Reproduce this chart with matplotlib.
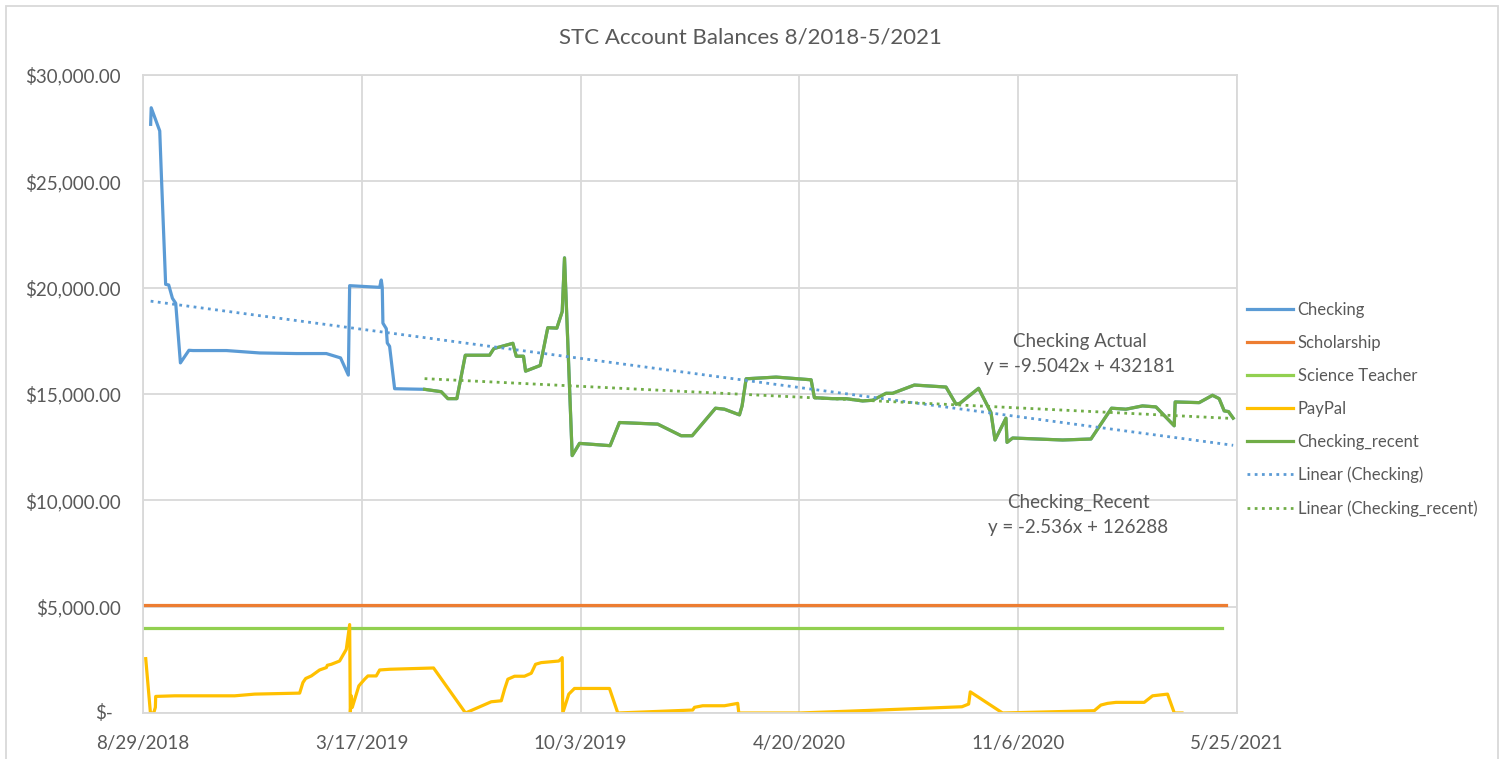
import numpy as np
import matplotlib
matplotlib.use("Agg")
from matplotlib import pyplot as plt
import matplotlib.dates as mdates
from matplotlib.ticker import FuncFormatter
from matplotlib.patches import Rectangle

plt.rcParams['font.family'] = ['Lato', 'DejaVu Sans']

# x values are days after 8/29/2018 (Excel serial 43341)
START = np.datetime64('2018-08-29')
SERIAL0 = 43341

checking_early_days = [7.0, 7.5, 15.3, 16.8, 20.7, 23.5, 26.9, 29.9, 34.2, 42.0, 45.7, 76.2,
                       106.6, 140.2, 167.6, 180.6, 187.7, 188.9, 216.3, 217.8, 218.7, 219.3,
                       222.4, 223.3, 225.4, 230.0]
checking_early_vals = [27680, 28460, 27370, 25280, 20155, 20127, 19500, 19267, 16463, 17056,
                       17043, 17043, 16930, 16902, 16902, 16697, 15888, 20094, 20015, 20360,
                       20015, 18332, 18071, 17398, 17243, 15248]

recent_days = [257.4, 272.6, 278.7, 286.9, 294.6, 316.8, 320.7, 338.1, 341.2, 347.8, 349.7,
               363.1, 370.0, 378.3, 383.2, 385.3, 392.3, 399.0, 427.0, 435.5, 470.5, 491.9,
               502.0, 523.3, 531.5, 545.2, 547.6, 551.3, 578.7, 610.7, 613.7, 630.4, 642.7,
               657.8, 667.0, 679.2, 685.2, 705.1, 734.0, 743.2, 746.8, 763.8, 775.1, 778.8,
               788.8, 789.8, 794.9, 840.6, 866.5, 885.3, 898.5, 913.6, 925.9, 942.6, 943.5,
               965.4, 977.6, 983.7, 988.3, 992.2, 996.5]
recent_vals = [15220, 15108, 14781, 14781, 16823, 16823, 17136, 17384, 16776, 16776, 16075,
               16342, 18117, 18098, 18879, 21402, 12103, 12678, 12570, 13659, 13584, 13038,
               13038, 14332, 14285, 14019, 14440, 15715, 15795, 15668, 14827, 14781, 14781,
               14673, 14706, 15033, 15033, 15421, 15327, 14519, 14566, 15267, 14127, 12837,
               13865, 12725, 12930, 12837, 12884, 14332, 14285, 14440, 14393, 13505, 14626,
               14594, 14940, 14781, 14206, 14173, 13865]

scholarship_days = [0, 989.8]
scholarship_vals = [5094, 5094]
science_days = [0, 986.7]
science_vals = [3990, 3990]

paypal_days = [2.5, 6.8, 9.8, 11.3, 11.6, 29.0, 83.8, 102.1, 143.2, 146.2, 148.7, 153.9, 161.4,
               167.6, 168.5, 172.1, 179.7, 185.8, 188.9, 189.5, 190.4, 191.3, 197.3, 202.6,
               205.6, 213.2, 216.3, 225.4, 265.6, 294.8, 318.3, 327.5, 330.5, 333.5, 339.6,
               348.7, 354.9, 358.8, 364.0, 380.1, 383.2, 383.7, 389.2, 394.4, 426.4, 434.0,
               502.5, 504.1, 511.6, 531.5, 543.6, 544.6, 600.0, 673.1, 748.6, 754.7, 756.2,
               785.7, 869.5, 875.6, 881.7, 889.4, 915.2, 922.8, 936.5, 942.7, 949.7]
paypal_vals = [2556, 0, 0, 266, 780, 808, 808, 888, 935, 1435, 1622, 1744, 2023, 2136, 2243,
               2290, 2444, 2991, 4159, 0, 808, 266, 1276, 1589, 1743, 1743, 2023, 2056, 2117,
               0, 528, 575, 1122, 1589, 1729, 1729, 1869, 2290, 2369, 2444, 2603, 0, 888,
               1154, 1154, 0, 140, 266, 341, 341, 453, 0, 0, 140, 294, 421, 995, 0, 107, 374,
               453, 500, 500, 808, 888, 0, 0]

# trendlines (slope, intercept) in Excel serial days
trend_checking = (-6.85, 316300)
trend_recent = (-2.536, 126288)

def to_dates(days):
    return START + (np.array(days) * 24 * 60).astype('timedelta64[m]')

checking_days = checking_early_days + recent_days
checking_vals = checking_early_vals + recent_vals

fig = plt.figure(figsize=(15.06, 7.59), dpi=100)
ax = fig.add_axes([143 / 1506, 46 / 759, 1094 / 1506, 638 / 759])

lw = 2.3
ax.plot(to_dates(checking_days), checking_vals, color='#5B9BD5', lw=lw, label='Checking')
ax.plot(to_dates(scholarship_days), scholarship_vals, color='#ED7D31', lw=lw, label='Scholarship')
ax.plot(to_dates(science_days), science_vals, color='#92D050', lw=lw, label='Science Teacher')
ax.plot(to_dates(paypal_days), paypal_vals, color='#FFC000', lw=lw, label='PayPal')
ax.plot(to_dates(recent_days), recent_vals, color='#70AD47', lw=lw, label='Checking_recent')

for days, (m, b), col, lab in [(checking_days, trend_checking, '#5B9BD5', 'Linear (Checking)'),
                                (recent_days, trend_recent, '#70AD47', 'Linear (Checking_recent)')]:
    d = np.array([days[0], days[-1]])
    ax.plot(to_dates(d), m * (d + SERIAL0) + b, color=col, lw=2, ls=(0, (1, 1.6)), label=lab)

ax.set_xlim(to_dates([0])[0], to_dates([1000])[0])
ax.set_ylim(0, 30000)
ticks = to_dates(np.arange(0, 1001, 200))
ax.set_xticks(ticks)
ax.xaxis.set_major_formatter(FuncFormatter(
    lambda v, p: (lambda d: f"{d.month}/{d.day}/{d.year}")(mdates.num2date(v))))
ax.set_yticks(np.arange(0, 30001, 5000))
# zero gets its own label below (accounting style "$-" sits further right)
ax.yaxis.set_major_formatter(FuncFormatter(lambda v, p: "" if v == 0 else f"${v:,.2f}"))

ax.grid(True, color='#D9D9D9', lw=1.3)
ax.set_axisbelow(True)
for s in ax.spines.values():
    s.set_color('#D9D9D9')
    s.set_linewidth(1.3)
ax.tick_params(length=0, labelsize=13.5, colors='#595959')
ax.tick_params(axis='x', pad=16)
ax.tick_params(axis='y', pad=16)

ax.annotate("$-", xy=(0, 0), xycoords=('axes fraction', 'data'), xytext=(-30, 0),
            textcoords='offset pixels', ha='right', va='center', fontsize=13.5, color='#595959')

fig.text(0.498, 1 - 37 / 759, 'STC Account Balances 8/2018-5/2021', ha='center', va='center',
         fontsize=16, color='#595959')

fig.legend(loc='upper left', bbox_to_anchor=(1240 / 1506, 1 - 295 / 759), frameon=False,
           fontsize=12, labelcolor='#595959', handlelength=2.75, handletextpad=0.3,
           labelspacing=1.02, borderaxespad=0)

fig.text(1080 / 1506, 1 - 341 / 759, 'Checking Actual', ha='center', va='center',
         fontsize=13.5, color='#595959')
fig.text(1080 / 1506, 1 - 367 / 759, 'y = -9.5042x + 432181', ha='center', va='center',
         fontsize=13.5, color='#595959')
fig.text(1078 / 1506, 1 - 502 / 759, 'Checking_Recent', ha='center', va='center',
         fontsize=13.5, color='#595959')
fig.text(1078 / 1506, 1 - 527 / 759, 'y = -2.536x + 126288', ha='center', va='center',
         fontsize=13.5, color='#595959')

fig.patches.append(Rectangle((6 / 1506, -0.05), 1492 / 1506, 1.05 - 6 / 759,
                             transform=fig.transFigure, fill=False, ec='#D9D9D9', lw=1.3))

fig.savefig('out.png', dpi=100)
